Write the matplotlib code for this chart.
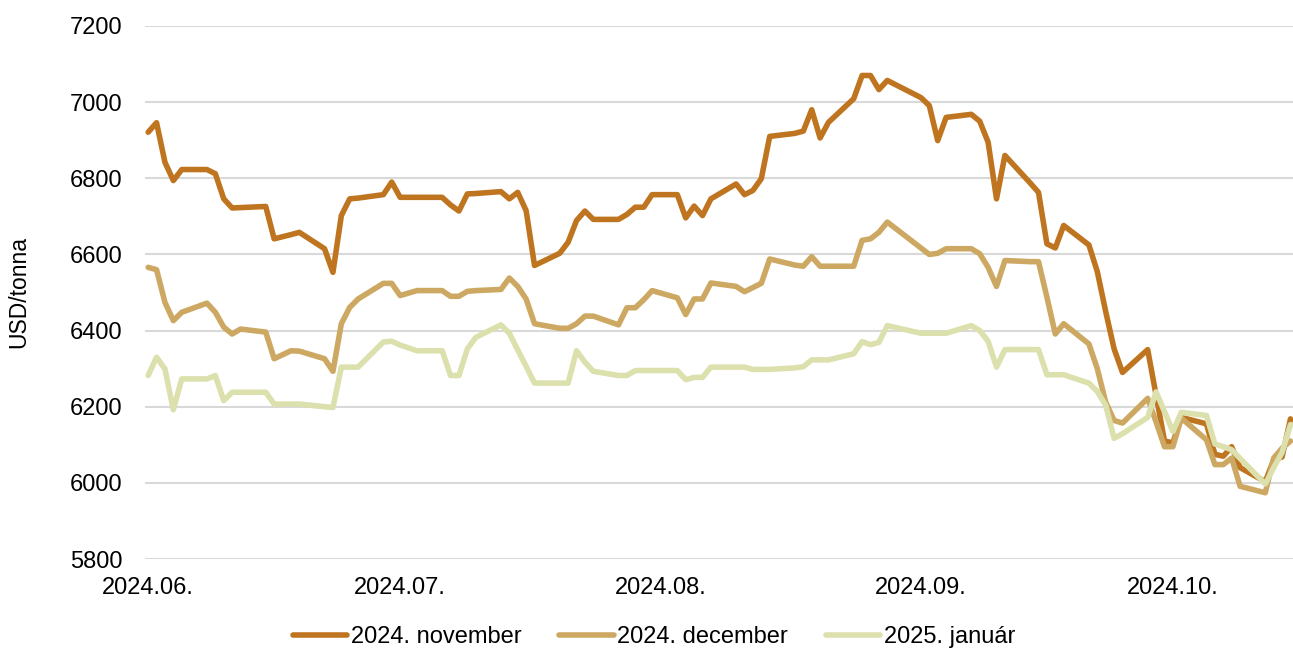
import matplotlib
matplotlib.use("Agg")
import matplotlib.pyplot as plt
import pandas as pd

# Trading days (US exchange holidays removed)
holidays = ["2024-06-19", "2024-07-04", "2024-09-02"]
dates = pd.bdate_range("2024-06-03", "2024-10-17", freq="C", holidays=holidays)

series_labels = ["2024. november", "2024. december", "2025. január"]
series_colors = ["#BF7520", "#CDA862", "#DCE0AD"]

nov_2024 = [
    6921, 6946, 6842, 6794, 6823,
    6823, 6812, 6746, 6722, 6723,
    6726, 6641, 6652, 6658,
    6615, 6553, 6702, 6746, 6748,
    6757, 6790, 6750, 6750,
    6750, 6730, 6714, 6759, 6760,
    6765, 6746, 6763, 6715, 6571,
    6603, 6632, 6689, 6714, 6692,
    6692, 6705, 6724, 6724, 6757,
    6757, 6696, 6727, 6702, 6746,
    6785, 6757, 6768, 6799, 6910,
    6918, 6924, 6980, 6906, 6947,
    7009, 7070, 7070, 7033, 7057,
    7012, 6991, 6899, 6960,
    6968, 6950, 6895, 6746, 6860,
    6788, 6763, 6628, 6617, 6676,
    6625, 6555, 6450, 6352, 6290,
    6350, 6230, 6110, 6105, 6172,
    6155, 6075, 6070, 6095, 6040,
    6003, 6060, 6068, 6168,
]

dec_2024 = [
    6566, 6560, 6474, 6426, 6448,
    6472, 6448, 6409, 6391, 6404,
    6396, 6326, 6347, 6346,
    6326, 6293, 6418, 6461, 6483,
    6524, 6524, 6492, 6505,
    6505, 6490, 6490, 6503, 6505,
    6508, 6538, 6516, 6483, 6418,
    6406, 6406, 6418, 6438, 6438,
    6415, 6460, 6460, 6481, 6505,
    6486, 6442, 6483, 6483, 6525,
    6516, 6502, 6513, 6524, 6588,
    6572, 6569, 6594, 6569, 6569,
    6569, 6637, 6641, 6658, 6685,
    6617, 6600, 6603, 6615,
    6615, 6602, 6566, 6516, 6584,
    6581, 6581, 6488, 6391, 6418,
    6365, 6300, 6212, 6164, 6157,
    6222, 6160, 6095, 6095, 6170,
    6113, 6048, 6048, 6065, 5991,
    5974, 6065, 6091, 6110,
]

jan_2025 = [
    6282, 6330, 6299, 6192, 6273,
    6273, 6282, 6216, 6238, 6238,
    6238, 6207, 6207, 6207,
    6200, 6198, 6304, 6304, 6304,
    6370, 6372, 6362, 6347,
    6347, 6282, 6282, 6352, 6382,
    6415, 6393, 6349, 6306, 6262,
    6262, 6262, 6347, 6317, 6293,
    6282, 6282, 6295, 6295, 6295,
    6295, 6271, 6277, 6277, 6304,
    6304, 6304, 6298, 6298, 6298,
    6302, 6305, 6323, 6323, 6323,
    6339, 6371, 6363, 6369, 6413,
    6393, 6393, 6393, 6393,
    6413, 6400, 6372, 6304, 6350,
    6350, 6350, 6284, 6284, 6284,
    6262, 6240, 6204, 6117, 6129,
    6172, 6239, 6187, 6135, 6185,
    6177, 6102, 6095, 6087, 6064,
    5997, 6040, 6080, 6153,
]

tick_dates = ["2024-06-03", "2024-07-03", "2024-08-03", "2024-09-03", "2024-10-03"]
tick_labels = ["2024.06.", "2024.07.", "2024.08.", "2024.09.", "2024.10."]
y_ticks = [5800, 6000, 6200, 6400, 6600, 6800, 7000, 7200]

plt.rcParams["font.family"] = ["Liberation Sans", "DejaVu Sans"]

W, H = 1293, 651
fig = plt.figure(figsize=(W / 100, H / 100), dpi=100)
ax = fig.add_axes([145 / W, 1 - 559 / H, (W - 145) / W, (559 - 26) / H])

for values, label, color in zip([nov_2024, dec_2024, jan_2025], series_labels, series_colors):
    ax.plot(dates, values, color=color, lw=4.0, label=label,
            solid_joinstyle="round", solid_capstyle="round")

ax.set_ylim(5800, 7200)
ax.set_yticks(y_ticks)
ax.set_yticklabels([str(v) for v in y_ticks])
start = pd.Timestamp("2024-06-03")
ax.set_xlim(start - pd.Timedelta(hours=9), start + pd.Timedelta(days=136.3))
ax.set_xticks(pd.to_datetime(tick_dates))
ax.set_xticklabels(tick_labels)

ax.grid(axis="y", color="#D9D9D9", lw=1.5)
ax.set_axisbelow(True)
for s in ax.spines.values():
    s.set_visible(False)
ax.tick_params(axis="both", length=0, labelsize=17, colors="#000000")
ax.tick_params(axis="y", pad=16)
ax.tick_params(axis="x", pad=13)

fig.text(19 / W, 1 - 292 / H, "USD/tonna", rotation=90, ha="center", va="center",
         fontsize=16.5)

fig.legend(loc="center", bbox_to_anchor=(654 / W, 1 - 637 / H), ncol=3,
           frameon=False, fontsize=17, handlelength=2.3, handletextpad=0.15,
           columnspacing=1.6)

fig.savefig("out.png", dpi=100)
